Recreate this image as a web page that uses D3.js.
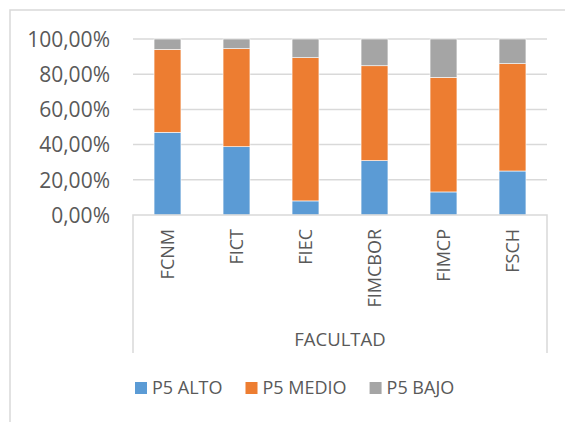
<!DOCTYPE html>
<html><head><meta charset="utf-8">
<script src="https://cdn.jsdelivr.net/npm/d3@7/dist/d3.min.js"></script>
<style>
html,body{margin:0;padding:0;background:#fff;}
text{font-family:"Open Sans",sans-serif;fill:#595959;}
</style></head>
<body><svg id="c" width="565" height="422"></svg>
<script>
const categories = ["FCNM","FICT","FIEC","FIMCBOR","FIMCP","FSCH"];
const seriesNames = ["P5 ALTO","P5 MEDIO","P5 BAJO"];
const p5Alto  = [0.470, 0.388, 0.080, 0.309, 0.131, 0.250];
const p5Medio = [0.471, 0.557, 0.814, 0.539, 0.651, 0.610];
const p5Bajo  = [0.059, 0.055, 0.106, 0.152, 0.218, 0.140];
const yTicks = [0, 0.2, 0.4, 0.6, 0.8, 1.0];
const colors = ["#5B9BD5","#ED7D31","#A5A5A5"];
const axisTitle = "FACULTAD";

const svg = d3.select("#c");
const W = 565, H = 422;
const m = {left:133, right:18, top:39, bottom:207};
const x0 = m.left, x1 = W - m.right, yTop = m.top, yBot = H - m.bottom;

// chart border
svg.append("rect").attr("x",10).attr("y",10).attr("width",W+20).attr("height",H+20)
  .attr("fill","none").attr("stroke","#D9D9D9").attr("stroke-width",1.5);

const x = d3.scaleBand().domain(categories).range([x0,x1]).paddingInner(0.61).paddingOuter(0.305);
const y = d3.scaleLinear().domain([0,1]).range([yBot,yTop]);

const loc = d3.formatLocale({decimal:",",thousands:".",grouping:[3],currency:["","€"]});
const fmt = loc.format(".2%");

// gridlines
svg.append("g").selectAll("line").data(yTicks.filter(d=>d>0)).join("line")
  .attr("x1",x0).attr("x2",x1).attr("y1",d=>y(d)).attr("y2",d=>y(d))
  .attr("stroke","#D9D9D9").attr("stroke-width",1.5);

// y axis labels
const yAxis = d3.axisLeft(y).tickValues(yTicks).tickFormat(fmt).tickSize(0).tickPadding(23);
const gy = svg.append("g").attr("transform",`translate(${x0},0)`).call(yAxis);
gy.select(".domain").remove();
gy.selectAll("text").style("font-size","21px").attr("fill","#595959").attr("dy","0.35em");

// stacked bars
const rows = categories.map((c,i)=>({cat:c, a:p5Alto[i], m:p5Medio[i], b:p5Bajo[i]}));
const stack = d3.stack().keys(["a","m","b"])(rows);
svg.append("g").selectAll("g").data(stack).join("g").attr("fill",(d,i)=>colors[i])
  .selectAll("rect").data(d=>d).join("rect")
  .attr("x",d=>x(d.data.cat)).attr("width",x.bandwidth())
  .attr("y",d=>y(d[1])).attr("height",d=>y(d[0])-y(d[1]))
  .attr("stroke","#fff").attr("stroke-width",0.6);

// category axis box
const boxBottom = 353;
const gb = svg.append("g").attr("stroke","#D9D9D9").attr("stroke-width",1.5).attr("fill","none");
gb.append("path").attr("d",`M${x0},${boxBottom}V${yBot}H${x1}V${boxBottom}`);

// category labels
svg.append("g").selectAll("text").data(categories).join("text")
  .attr("transform",d=>`translate(${x(d)+x.bandwidth()/2},${yBot+14}) rotate(-90)`)
  .attr("text-anchor","end").attr("dy","0.35em").style("font-size","18px").text(d=>d);

// axis title
svg.append("text").attr("x",(x0+x1)/2).attr("y",346).attr("text-anchor","middle")
  .style("font-size","18.5px").text(axisTitle);

// legend
const lg = svg.append("g").selectAll("g").data(seriesNames).join("g");
let lx = 135;
lg.each(function(d,i){
  const g = d3.select(this).attr("transform",`translate(${lx},382)`);
  g.append("rect").attr("width",12).attr("height",12).attr("fill",colors[i]);
  const t = g.append("text").attr("x",17).attr("y",6).attr("dy","0.35em").style("font-size","18px").text(d);
  lx += 17 + t.node().getComputedTextLength() + 23;
});
</script></body></html>
